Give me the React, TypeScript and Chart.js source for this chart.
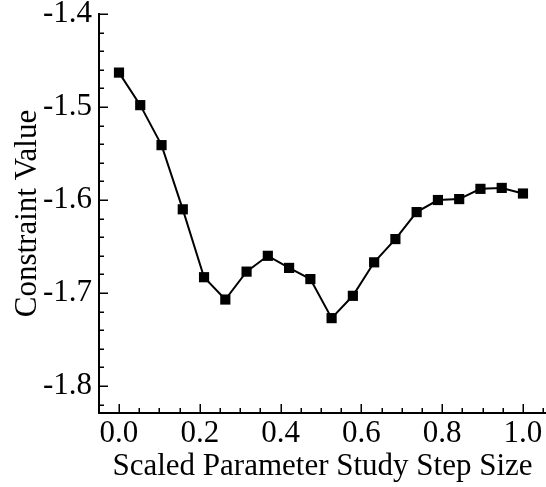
import React, { useEffect, useRef } from "react";
import { Chart, registerables } from "chart.js";

Chart.register(...registerables);

const stepSizes = [
  0, 0.0526, 0.1053, 0.1579, 0.2105, 0.2632, 0.3158, 0.3684, 0.4211, 0.4737,
  0.5263, 0.5789, 0.6316, 0.6842, 0.7368, 0.7895, 0.8421, 0.8947, 0.9474, 1.0,
];
const constraintValues = [
  -1.463, -1.498, -1.541, -1.61, -1.683, -1.707, -1.677, -1.66, -1.673, -1.685,
  -1.727, -1.703, -1.667, -1.642, -1.613, -1.6, -1.599, -1.588, -1.587, -1.593,
];

const xMajorTicks = [0, 0.2, 0.4, 0.6, 0.8, 1.0];
const xMinorTicks = [0.05, 0.1, 0.15, 0.25, 0.3, 0.35, 0.45, 0.5, 0.55, 0.65, 0.7, 0.75, 0.85, 0.9, 0.95, 1.05];
const yMajorTicks = [-1.8, -1.7, -1.6, -1.5, -1.4];
const yMinorTicks = [
  -1.82, -1.78, -1.76, -1.74, -1.72, -1.68, -1.66, -1.64, -1.62, -1.58, -1.56, -1.54, -1.52,
  -1.48, -1.46, -1.44, -1.42,
];

const xTitle = "Scaled Parameter Study Step Size";
const yTitle = "Constraint Value";

const FONT = "'Liberation Serif', 'Times New Roman', serif";

const inwardTicks = {
  id: "inwardTicks",
  afterDatasetsDraw(chart: any) {
    const { ctx, chartArea, scales } = chart;
    const xs = scales.x;
    const ys = scales.y;
    ctx.save();
    ctx.strokeStyle = "#000";
    ctx.lineWidth = 1.5;
    ctx.beginPath();
    const xt = (vals: number[], len: number) => {
      vals.forEach((v) => {
        const p = Math.round(xs.getPixelForValue(v)) + 0.25;
        if (p < chartArea.left || p > chartArea.right) return;
        ctx.moveTo(p, chartArea.bottom);
        ctx.lineTo(p, chartArea.bottom - len);
      });
    };
    const yt = (vals: number[], len: number) => {
      vals.forEach((v) => {
        const p = Math.round(ys.getPixelForValue(v)) + 0.25;
        if (p < chartArea.top - 1 || p > chartArea.bottom) return;
        ctx.moveTo(chartArea.left, p);
        ctx.lineTo(chartArea.left + len, p);
      });
    };
    xt(xMajorTicks, 9);
    xt(xMinorTicks, 5);
    yt(yMajorTicks, 9);
    yt(yMinorTicks, 5);
    ctx.stroke();
    ctx.restore();
  },
};

export default function App() {
  const ref = useRef<HTMLCanvasElement | null>(null);

  useEffect(() => {
    if (!ref.current) return;
    const chart = new Chart(ref.current, {
      type: "line",
      data: {
        datasets: [
          {
            data: stepSizes.map((x, i) => ({ x, y: constraintValues[i] })),
            borderColor: "#000",
            backgroundColor: "#000",
            borderWidth: 2,
            pointStyle: "rect",
            pointRadius: 7.2,
            pointBorderWidth: 0,
            pointBackgroundColor: "#000",
            tension: 0,
            clip: false,
          },
        ],
      },
      options: {
        animation: false,
        responsive: false,
        devicePixelRatio: 1,
        layout: { autoPadding: false, padding: { top: 14, left: 0, right: 0, bottom: 0 } },
        plugins: { legend: { display: false }, tooltip: { enabled: false } },
        scales: {
          x: {
            type: "linear",
            min: -0.0495,
            max: 1.057,
            grid: { display: false, drawTicks: false },
            border: { display: true, color: "#000", width: 2 },
            afterBuildTicks: (s: any) => {
              s.ticks = xMajorTicks.map((v) => ({ value: v }));
            },
            afterFit: (s: any) => {
              s.height = 74;
              s.paddingLeft = 0;
              s.paddingRight = 0;
            },
            ticks: {
              autoSkip: false,
              maxRotation: 0,
              padding: 2,
              color: "#000",
              font: { family: FONT, size: 31 },
              callback: (v: any) => Number(v).toFixed(1),
            },
            title: {
              display: true,
              text: xTitle,
              color: "#000",
              font: { family: FONT, size: 31 },
              padding: { top: 0, bottom: 2 },
            },
          },
          y: {
            type: "linear",
            min: -1.829,
            max: -1.4,
            grid: { display: false, drawTicks: false },
            border: { display: true, color: "#000", width: 2 },
            afterBuildTicks: (s: any) => {
              s.ticks = yMajorTicks.map((v) => ({ value: v }));
            },
            afterFit: (s: any) => {
              s.width = 99;
              s.paddingTop = 0;
              s.paddingBottom = 0;
            },
            ticks: {
              autoSkip: false,
              padding: 7,
              color: "#000",
              font: { family: FONT, size: 31 },
              callback: (v: any) => Number(v).toFixed(1),
            },
            title: {
              display: true,
              text: yTitle,
              color: "#000",
              font: { family: FONT, size: 31 },
              padding: { top: 9, bottom: 0 },
            },
          },
        },
      },
      plugins: [inwardTicks],
    } as any);
    return () => chart.destroy();
  }, []);

  return (
    <div style={{ position: "fixed", left: 0, top: 0, width: 546, height: 487, background: "#fff" }}>
      <canvas ref={ref} width={546} height={487} />
    </div>
  );
}
